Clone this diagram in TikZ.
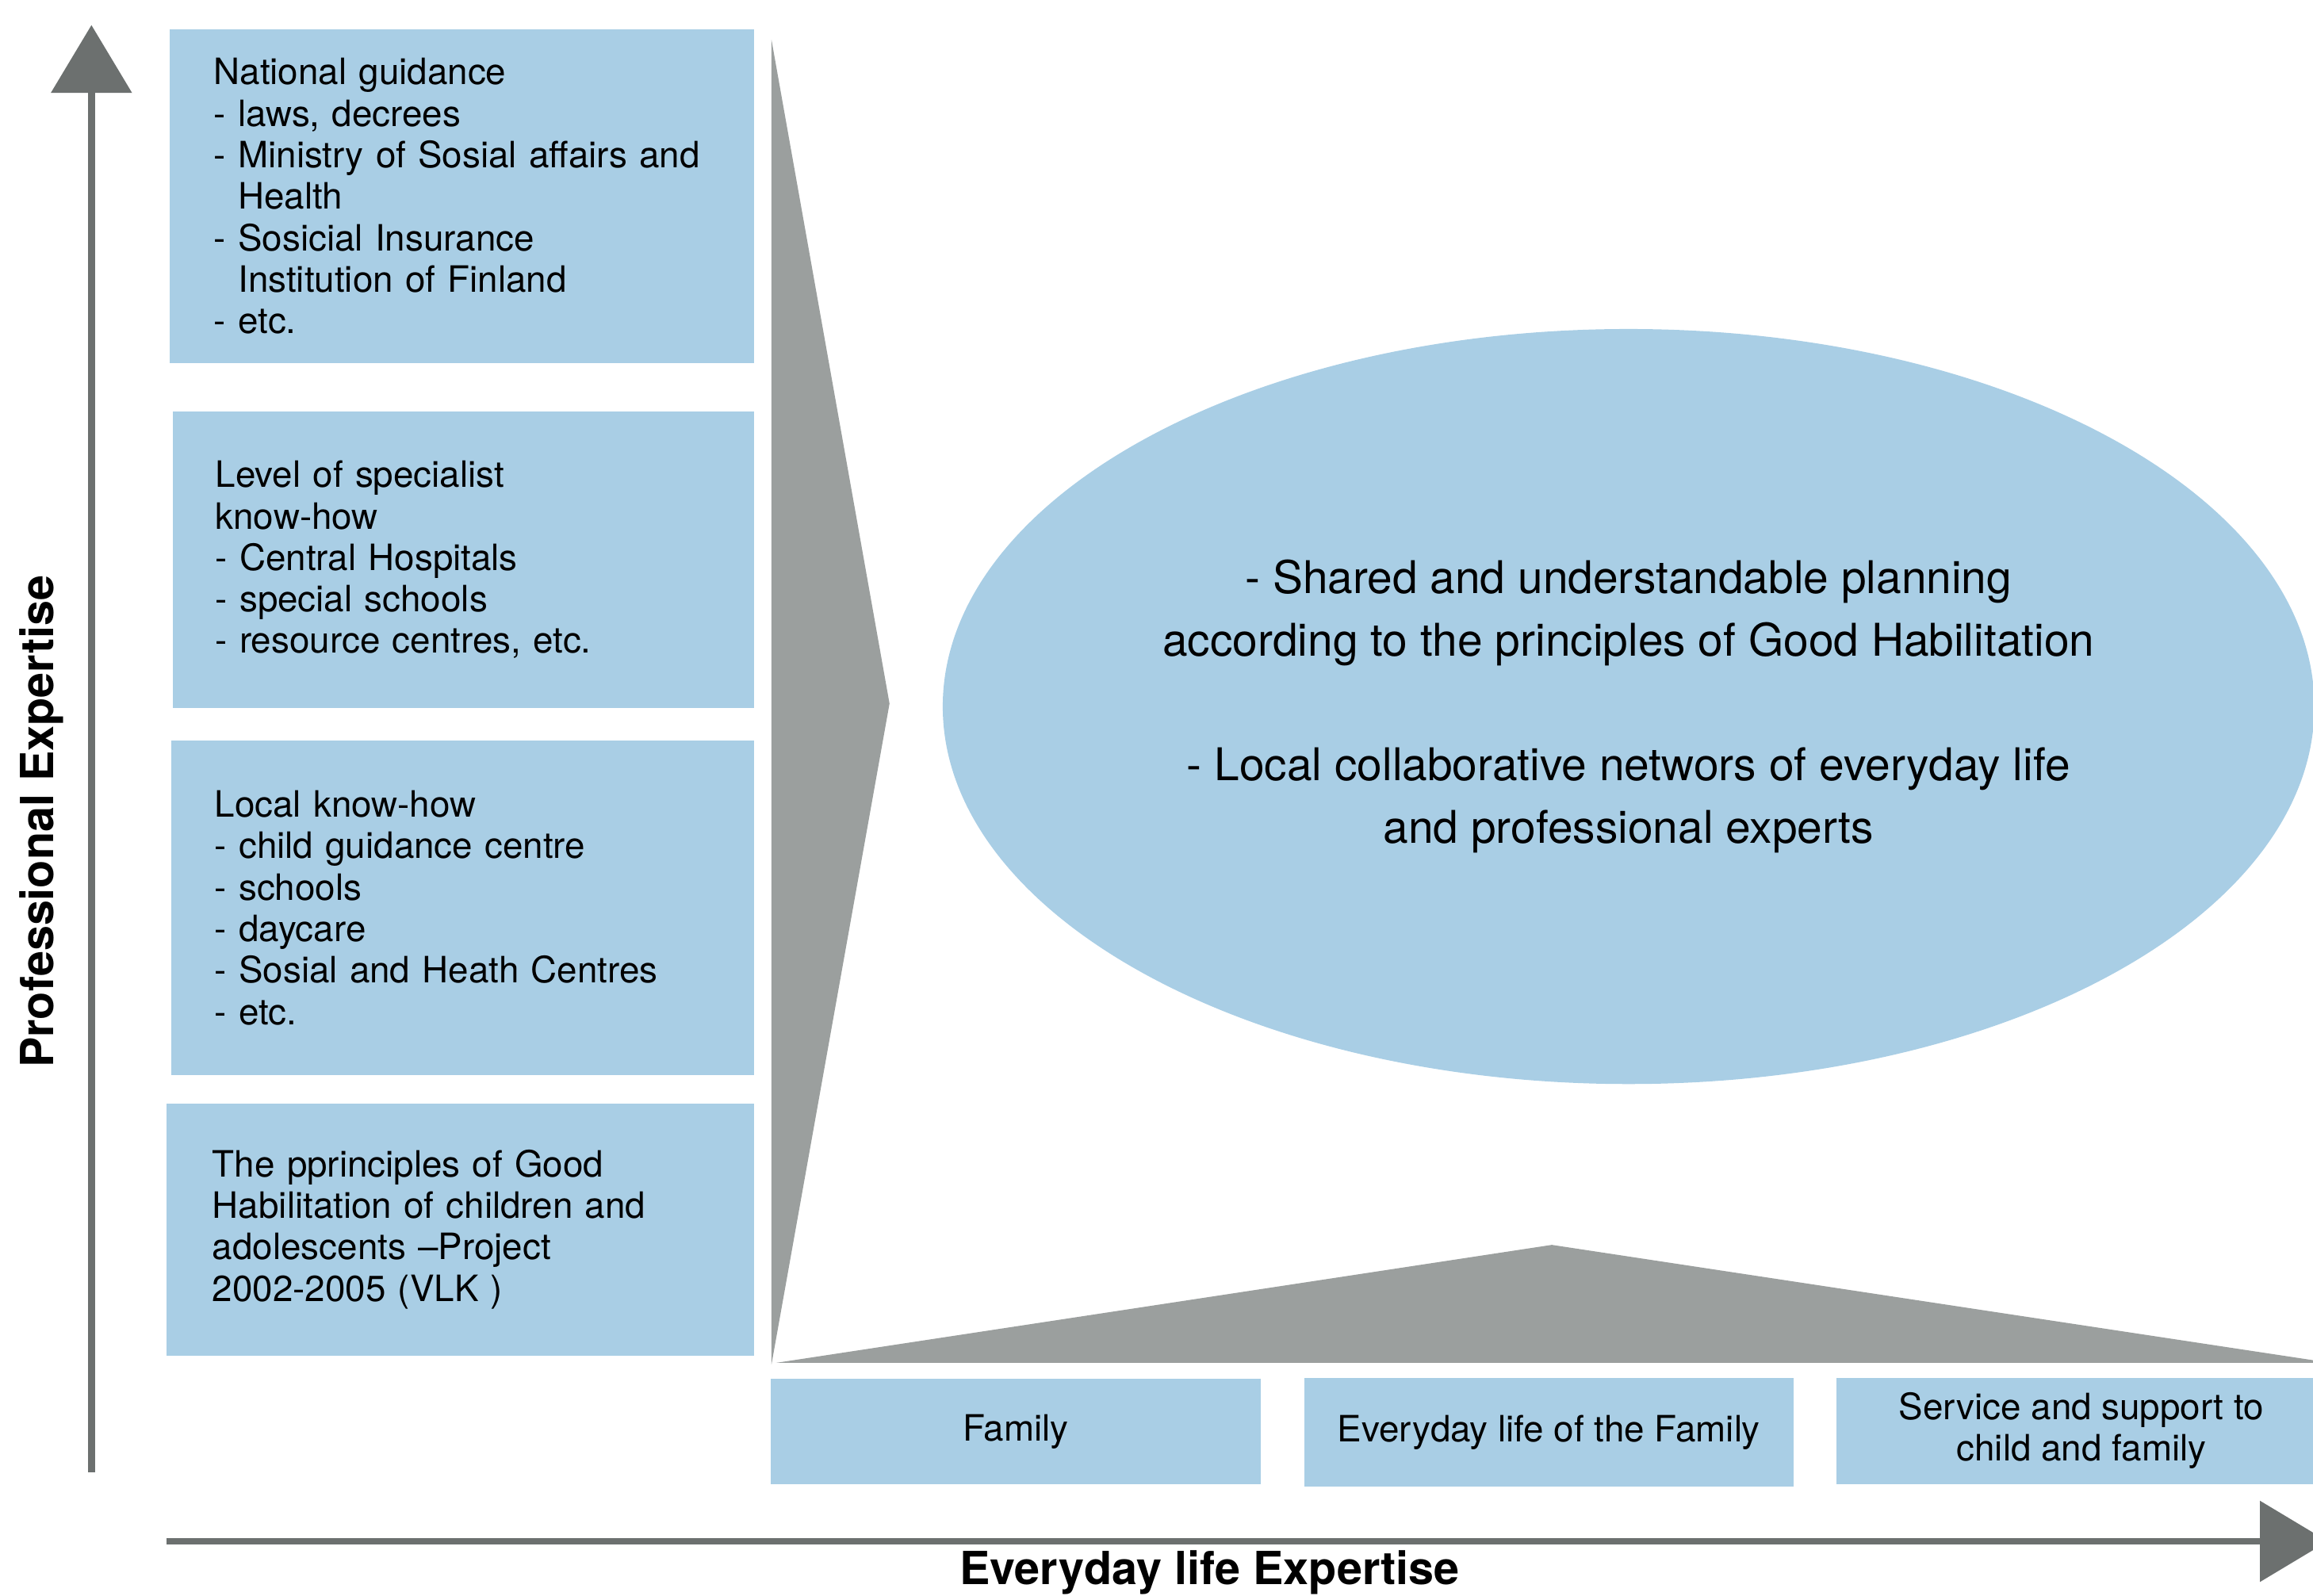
\documentclass[tikz,border=0pt]{standalone}
\usepackage{fontspec}
\setmainfont{TeX Gyre Heros}
\usepackage{tikz}
\usetikzlibrary{arrows.meta,shapes.geometric}

\definecolor{boxblue}{RGB}{169,206,229}
\definecolor{wedgegray}{RGB}{155,159,158}
\definecolor{axisgray}{RGB}{108,112,111}

\begin{document}
\begin{tikzpicture}[x=0.02cm,y=-0.02cm]
		\useasboundingbox (0,0) rectangle (1568,1082);
		\clip (0,0) rectangle (1568,1082);

		\fill[wedgegray] (523,27) -- (603,477) -- (523,925) -- cycle;
		\fill[wedgegray] (526,924) -- (1052,844) -- (1580,924) -- cycle;

		\begin{scope}[every node/.style={fill=boxblue,inner sep=0pt,align=left,text width=6.72cm,
		              font=\fontsize{14}{16}\selectfont}]
		    \node[minimum width=7.92cm,minimum height=4.52cm] (nat) at (313,133)
		        {National guidance\\- laws, decrees\\- Ministry of Sosial affairs and\\\phantom{- }Health\\- Sosicial Insurance\\\phantom{- }Institution of Finland\\- etc.};
		    \node[minimum width=7.88cm,minimum height=4.02cm] (spec) at (314,379.5)
		        {Level of specialist\\know-how\\- Central Hospitals\\- special schools\\- resource centres, etc.};
		    \node[minimum width=7.90cm,minimum height=4.54cm] (loc) at (313.5,615.5)
		        {Local know-how\\- child guidance centre\\- schools\\- daycare\\- Sosial and Heath Centres\\- etc.};
		    \node[minimum width=7.96cm,minimum height=3.42cm] (vlk) at (312,833.5)
		        {The pprinciples of Good\\Habilitation of children and\\adolescents –Project\\2002-2005 (VLK )};
		\end{scope}

		\begin{scope}[every node/.style={fill=boxblue,inner sep=0pt,align=center,minimum width=6.64cm,
		              font=\fontsize{14}{16}\selectfont}]
		    \node[minimum height=1.42cm] (fam) at (688.5,970.5) {Family};
		    \node[minimum height=1.48cm] (life) at (1050,971) {Everyday life of the Family};
		    \node[minimum height=1.44cm] (serv) at (1411,970) {Service and support to\\child and family};
		\end{scope}

		\node[ellipse,fill=boxblue,inner sep=0pt,minimum width=18.6cm,minimum height=10.24cm,align=center,
		      font=\fontsize{17.4}{24.1}\selectfont] (plan) at (1104,479)
		    {- Shared and understandable planning\\according to the principles of Good Habilitation\\[24.1pt]- Local collaborative networs of everyday life\\and professional experts};

		\begin{scope}[every node/.style={font=\bfseries\fontsize{17.6}{20}\selectfont,inner sep=0pt},
		              axis/.style={draw=axisgray,line width=2.55pt,-{Triangle[length=0.92cm,width=1.08cm,fill=axisgray]}}]
		    \coordinate (y0) at (62,998);
		    \coordinate (y1) at (62,17);
		    \coordinate (x0) at (113,1045);
		    \coordinate (x1) at (1578,1045);
		    \draw[axis] (y0) -- (y1);
		    \draw[axis] (x0) -- (x1);
		    \node[rotate=90] (prof) at (28,557) {Professional Expertise};
		    \node[anchor=base] (every) at (820,1074) {Everyday life Expertise};
		\end{scope}
\end{tikzpicture}
\end{document}
